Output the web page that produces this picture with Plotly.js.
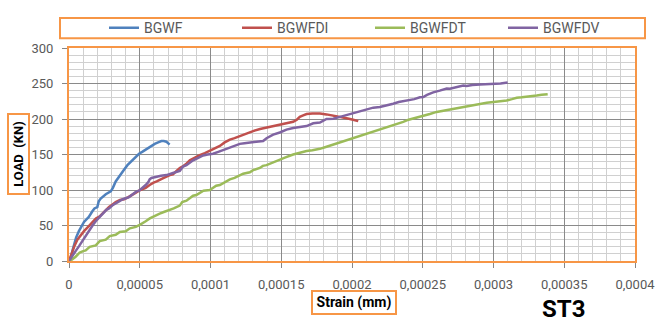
<!DOCTYPE html>
<html>
<head>
<meta charset="utf-8">
<script src="https://cdn.plot.ly/plotly-3.0.1.min.js"></script>
<style>
  html, body { margin: 0; padding: 0; background: #ffffff; }
  #chart { width: 657px; height: 325px; }
</style>
</head>
<body>
<div id="chart"></div>
<script>
// Load–strain curves for specimen group ST3 (strain in mm, load in kN)
const bgwfStrain = [0, 1.2e-6, 2.5e-6, 3.5e-6, 5e-6, 7e-6, 9e-6, 10.6e-6, 12e-6, 14e-6, 16.5e-6, 18e-6, 20e-6, 21e-6, 22.4e-6, 24e-6, 26e-6, 29.5e-6, 31e-6, 33e-6, 36.6e-6, 39e-6, 41.3e-6, 44e-6, 46e-6, 49.5e-6, 52e-6, 55e-6, 58e-6, 60.6e-6, 63e-6, 65.3e-6, 67e-6, 68.8e-6, 70e-6, 71.1e-6];
const bgwfLoad   = [0, 4, 15, 24, 33, 42, 50, 55, 58, 62, 70, 74, 76, 84, 88, 91, 94, 98, 103, 112, 123, 129, 135, 140, 144, 151, 154, 158, 162, 165, 167, 169, 169, 168, 166, 164];

const bgwfdiStrain = [0, 1e-6, 2.4e-6, 4e-6, 5.9e-6, 8e-6, 10.6e-6, 14e-6, 17e-6, 19e-6, 21.7e-6, 23.6e-6, 26.4e-6, 28.3e-6, 31e-6, 33e-6, 36e-6, 38.9e-6, 42e-6, 44.8e-6, 47e-6, 49.5e-6, 52e-6, 54.2e-6, 57e-6, 59.4e-6, 62e-6, 64.1e-6, 67e-6, 71.2e-6, 73.5e-6, 76e-6, 78.3e-6, 81e-6, 83e-6, 85.4e-6, 89e-6, 92.4e-6, 96e-6, 99.5e-6, 103e-6, 106.6e-6, 110e-6, 113.7e-6, 117e-6, 120.7e-6, 125e-6, 130.1e-6, 135e-6, 139.6e-6, 144e-6, 149e-6, 154e-6, 158.4e-6, 161e-6, 163.1e-6, 165.5e-6, 167.9e-6, 172e-6, 177.3e-6, 182e-6, 186.7e-6, 191.5e-6, 196.2e-6, 200.8e-6, 204.4e-6];
const bgwfdiLoad   = [0, 6, 15, 22, 30, 36, 42, 49, 56, 60, 63, 67, 73, 76, 80, 83, 86, 87, 90, 94, 96, 99, 101, 103, 107, 110, 112, 114.5, 117, 121, 122, 127, 131, 134, 137, 142, 146, 149, 152, 155, 158, 162, 167, 171, 173, 176, 179, 183, 186, 188, 190, 192, 194, 196, 199, 203, 205, 207, 207.8, 207.8, 206.5, 205, 203, 201, 199, 197];

const bgwfdtStrain = [0, 2e-6, 4.7e-6, 7.6e-6, 10e-6, 11.8e-6, 14.6e-6, 18.9e-6, 21.7e-6, 26e-6, 28.8e-6, 33e-6, 35.9e-6, 40.1e-6, 43e-6, 47.2e-6, 50e-6, 52e-6, 54.2e-6, 57.1e-6, 60e-6, 64.1e-6, 67e-6, 71.2e-6, 74e-6, 78.3e-6, 80e-6, 83e-6, 85e-6, 87.7e-6, 90e-6, 92.4e-6, 95e-6, 99.5e-6, 101.8e-6, 104e-6, 106.6e-6, 109e-6, 111.3e-6, 113.7e-6, 117e-6, 120.7e-6, 123.1e-6, 127.8e-6, 130.1e-6, 134.9e-6, 137e-6, 139.6e-6, 142e-6, 145e-6, 149e-6, 153e-6, 158.4e-6, 162e-6, 167.9e-6, 172e-6, 177.3e-6, 182e-6, 186.7e-6, 191.5e-6, 196.2e-6, 200.8e-6, 205.6e-6, 210e-6, 215e-6, 219.7e-6, 224.4e-6, 228e-6, 232e-6, 236.2e-6, 240e-6, 244e-6, 248e-6, 250.4e-6, 255e-6, 259.8e-6, 265e-6, 271.5e-6, 277e-6, 283.3e-6, 290e-6, 295.2e-6, 300e-6, 304e-6, 309.3e-6, 313e-6, 316.4e-6, 320e-6, 325.8e-6, 330.5e-6, 334e-6, 338.3e-6];
const bgwfdtLoad   = [0, 2, 6, 12, 14, 15, 20, 22, 28, 30, 35, 37, 41, 42, 46, 48, 51, 53, 56, 60, 63, 66.8, 69, 71.4, 74, 78, 83, 85, 88, 92, 93, 96, 99, 100, 103, 106, 107, 110, 113, 115, 117, 120, 123, 125, 128, 131, 134, 135, 137, 140, 143, 146, 150, 152, 155, 156, 158, 161, 164, 167, 170, 173, 176, 179, 182, 185, 188, 190, 193, 196, 199, 201, 203, 205, 207, 210, 212, 214.6, 217, 219, 221, 223, 224, 224.5, 226, 228, 230, 230.5, 231.5, 233, 234, 235];

const bgwfdvStrain = [0, 1.5e-6, 3.5e-6, 5e-6, 7.1e-6, 9e-6, 11.8e-6, 13.5e-6, 15.3e-6, 17e-6, 18.9e-6, 21.7e-6, 23.6e-6, 26.4e-6, 28.3e-6, 31.1e-6, 35.4e-6, 38e-6, 42.4e-6, 45e-6, 47.7e-6, 49.5e-6, 52.3e-6, 54.2e-6, 56e-6, 57e-6, 58.3e-6, 61.8e-6, 65e-6, 68.9e-6, 71e-6, 73.5e-6, 78.3e-6, 80.6e-6, 83e-6, 85e-6, 87.7e-6, 91e-6, 94.8e-6, 98e-6, 101.8e-6, 106e-6, 111.3e-6, 115e-6, 118.4e-6, 120.7e-6, 124e-6, 127.8e-6, 130.1e-6, 134.9e-6, 137.2e-6, 139.6e-6, 142e-6, 144.3e-6, 149e-6, 153.7e-6, 158.4e-6, 163.1e-6, 167.9e-6, 172.6e-6, 177.3e-6, 182e-6, 186.7e-6, 191.5e-6, 196.2e-6, 200.8e-6, 205.6e-6, 210e-6, 215e-6, 219.7e-6, 224.4e-6, 229.1e-6, 233e-6, 238.6e-6, 244e-6, 248e-6, 250.4e-6, 253e-6, 255.1e-6, 257.4e-6, 262e-6, 266.9e-6, 269.2e-6, 274e-6, 278.6e-6, 281e-6, 285e-6, 290.4e-6, 295e-6, 299.8e-6, 305e-6, 310e-6];
const bgwfdvLoad   = [0, 4, 10, 15, 21, 27, 35, 41, 46, 51, 56, 62, 65, 72, 74, 79, 84, 87, 90, 94, 98, 99, 103, 107, 111, 115, 117, 119, 120, 121, 122, 124, 127, 133, 135, 138, 141.8, 145, 148.6, 150, 151, 154, 157.8, 161, 164, 165, 166, 167, 167.5, 168, 169, 173, 176, 178, 181, 185, 187.3, 188.5, 190, 194, 195, 200, 200.5, 203, 205.5, 209, 210.5, 213, 216, 217, 219, 221.5, 224, 226, 228, 230.5, 231, 234, 236, 237.5, 240, 243, 242.5, 245, 247, 246.5, 248, 248.7, 249, 250, 250, 251.5];

const seriesNames = ['BGWF', 'BGWFDI', 'BGWFDT', 'BGWFDV'];
const seriesColors = ['#4F81BD', '#C0504D', '#9BBB59', '#8064A2'];

const xTickVals = [0, 0.00005, 0.0001, 0.00015, 0.0002, 0.00025, 0.0003, 0.00035, 0.0004];
const xTickText = ['0', '0,00005', '0,0001', '0,00015', '0,0002', '0,00025', '0,0003', '0,00035', '0,0004'];
const yTickVals = [0, 50, 100, 150, 200, 250, 300];
const yTickText = ['0', '50', '100', '150', '200', '250', '300'];

const xs = [bgwfStrain, bgwfdiStrain, bgwfdtStrain, bgwfdvStrain];
const ys = [bgwfLoad, bgwfdiLoad, bgwfdtLoad, bgwfdvLoad];

const traces = seriesNames.map((name, i) => ({
  type: 'scatter',
  mode: 'lines',
  name: name,
  x: xs[i],
  y: ys[i],
  line: { color: seriesColors[i], width: 2.5, shape: 'linear' }
}));

const ORANGE = '#F79646';
const W = 657, H = 325;
const M = { l: 69, r: 22, t: 41, b: 64 };
const pw = W - M.l - M.r, ph = H - M.t - M.b;
// pixel -> paper helpers for frame boxes placed outside the plot area
const px = v => (v - M.l) / pw;
const py = v => (H - M.b - v) / ph;

const tickFont = { family: 'Roboto, Arial, sans-serif', size: 13, color: '#595959' };

const layout = {
  width: W,
  height: H,
  margin: M,
  paper_bgcolor: '#ffffff',
  plot_bgcolor: '#ffffff',
  showlegend: true,
  legend: {
    orientation: 'h',
    x: px(104), xanchor: 'left',
    y: py(20.5), yanchor: 'middle',
    bgcolor: 'rgba(0,0,0,0)',
    borderwidth: 0,
    entrywidth: 88,
    font: { family: 'Roboto, Arial, sans-serif', size: 14, color: '#595959' },
    traceorder: 'normal'
  },
  xaxis: {
    range: [0, 0.0004],
    tickmode: 'array',
    tickvals: xTickVals,
    ticktext: xTickText,
    tickfont: tickFont,
    ticks: 'outside',
    ticklen: 5,
    tickcolor: '#868686',
    ticklabelstandoff: 5,
    showgrid: true,
    gridcolor: '#8a8a8a',
    gridwidth: 1,
    minor: { dtick: 0.00001, tick0: 0, showgrid: true, gridcolor: '#d0d0d0', gridwidth: 1, ticks: '' },
    zeroline: false,
    showline: true,
    mirror: true,
    linecolor: ORANGE,
    linewidth: 2,
    fixedrange: true
  },
  yaxis: {
    range: [0, 300],
    tickmode: 'array',
    tickvals: yTickVals,
    ticktext: yTickText,
    tickfont: tickFont,
    ticks: 'outside',
    ticklen: 5,
    tickcolor: '#868686',
    ticklabelstandoff: 6,
    showgrid: true,
    gridcolor: '#8a8a8a',
    gridwidth: 1,
    minor: { dtick: 10, tick0: 0, showgrid: true, gridcolor: '#d0d0d0', gridwidth: 1, ticks: '' },
    zeroline: false,
    showline: true,
    mirror: true,
    linecolor: ORANGE,
    linewidth: 2,
    fixedrange: true
  },
  shapes: [
    // frame around the legend row
    {
      type: 'rect', xref: 'paper', yref: 'paper',
      x0: px(60), x1: px(645), y0: py(31), y1: py(10),
      line: { color: ORANGE, width: 2 },
      fillcolor: 'rgba(0,0,0,0)',
      layer: 'above'
    }
  ],
  annotations: [
    {
      text: '<b>LOAD  (KN)</b>',
      xref: 'paper', yref: 'paper',
      x: px(18.5), y: py(151),
      xanchor: 'center', yanchor: 'middle',
      textangle: -90,
      showarrow: false,
      font: { family: 'Roboto, Arial, sans-serif', size: 13, color: '#000000' },
      width: 76, height: 17,
      bordercolor: ORANGE, borderwidth: 2, borderpad: 1,
      bgcolor: '#ffffff'
    },
    {
      text: '<b>Strain (mm)</b>',
      xref: 'paper', yref: 'paper',
      x: px(353.7), y: py(304.2),
      xanchor: 'center', yanchor: 'middle',
      showarrow: false,
      font: { family: 'Roboto, Arial, sans-serif', size: 14, color: '#000000' },
      width: 80, height: 19,
      bordercolor: ORANGE, borderwidth: 2, borderpad: 1,
      bgcolor: '#ffffff'
    },
    {
      text: '<b>ST3</b>',
      xref: 'paper', yref: 'paper',
      x: px(563), y: py(310.5),
      xanchor: 'center', yanchor: 'middle',
      showarrow: false,
      font: { family: 'Roboto, Arial, sans-serif', size: 24, color: '#000000' }
    }
  ]
};

Plotly.newPlot('chart', traces, layout, { displayModeBar: false, staticPlot: true });
</script>
</body>
</html>
